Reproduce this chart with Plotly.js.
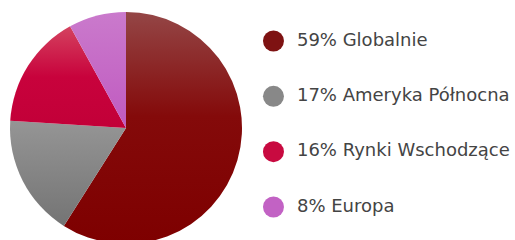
<!DOCTYPE html>
<html>
<head>
<meta charset="utf-8">
<script src="https://cdn.plot.ly/plotly-3.0.1.min.js"></script>
<style>
html,body{margin:0;padding:0;overflow:hidden;background:#fff;}
#chart{width:515px;height:250px;}
</style>
</head>
<body>
<div id="chart"></div>
<script>
const categories = ["Globalnie", "Ameryka Północna", "Rynki Wschodzące", "Europa"];
const shares = [59, 17, 16, 8];
const sliceColors = ["#810606", "#858585", "#c8043c", "#c262c4"];
const dotColors = ["#7e1212", "#888888", "#c80a40", "#c262c4"];
// vertical shading of each slice (top -> bottom)
const sliceShades = [
  [[0, "#944646"], [0.45, "#840a0a"], [1, "#7e0000"]],
  [[0, "#959595"], [1, "#747474"]],
  [[0, "#d4425f"], [0.5, "#c8023c"], [1, "#c20038"]],
  [[0, "#ca7acc"], [1, "#c05ac0"]]
];

const legendLabels = categories.map((c, i) => shares[i] + "% " + c);
const legendIdx = categories.map((c, i) => i);

const data = [
  {
    type: "pie",
    values: shares,
    labels: categories,
    sort: false,
    direction: "clockwise",
    rotation: 0,
    textinfo: "none",
    hoverinfo: "label+percent",
    marker: {colors: sliceColors, line: {width: 0}},
    domain: {x: [10/515, 242/515], y: [6/250, 238/250]},
    showlegend: false
  },
  {
    type: "scatter",
    mode: "markers",
    x: legendIdx.map(() => 0),
    y: legendIdx,
    marker: {size: 21, color: dotColors},
    cliponaxis: false,
    hoverinfo: "skip",
    showlegend: false
  },
  {
    type: "scatter",
    mode: "text",
    x: legendIdx.map(() => 0.0456),
    y: legendIdx,
    text: legendLabels,
    textposition: "middle right",
    textfont: {family: "DejaVu Sans", size: 18, color: "#444444"},
    cliponaxis: false,
    hoverinfo: "skip",
    showlegend: false
  }
];

const layout = {
  width: 515,
  height: 250,
  margin: {l: 0, r: 0, t: 0, b: 0},
  paper_bgcolor: "#ffffff",
  plot_bgcolor: "rgba(0,0,0,0)",
  xaxis: {range: [-0.531, 0.469], visible: false, fixedrange: true},
  yaxis: {range: [3.777, -0.741], visible: false, fixedrange: true},
  showlegend: false
};

Plotly.newPlot("chart", data, layout, {displayModeBar: false, staticPlot: true}).then(gd => {
  const svg = gd.querySelector("svg.main-svg");
  const ns = "http://www.w3.org/2000/svg";
  let defs = svg.querySelector("defs");
  if (!defs) { defs = document.createElementNS(ns, "defs"); svg.insertBefore(defs, svg.firstChild); }
  sliceShades.forEach((stops, i) => {
    const g = document.createElementNS(ns, "linearGradient");
    g.setAttribute("id", "sliceGrad" + i);
    g.setAttribute("x1", "0"); g.setAttribute("y1", "0");
    g.setAttribute("x2", "0"); g.setAttribute("y2", "1");
    stops.forEach(([o, c]) => {
      const s = document.createElementNS(ns, "stop");
      s.setAttribute("offset", o);
      s.setAttribute("stop-color", c);
      g.appendChild(s);
    });
    defs.appendChild(g);
  });
  gd.querySelectorAll("g.slice path.surface").forEach((p, i) => {
    p.style.fill = "url(#sliceGrad" + i + ")";
  });
});
</script>
</body>
</html>
